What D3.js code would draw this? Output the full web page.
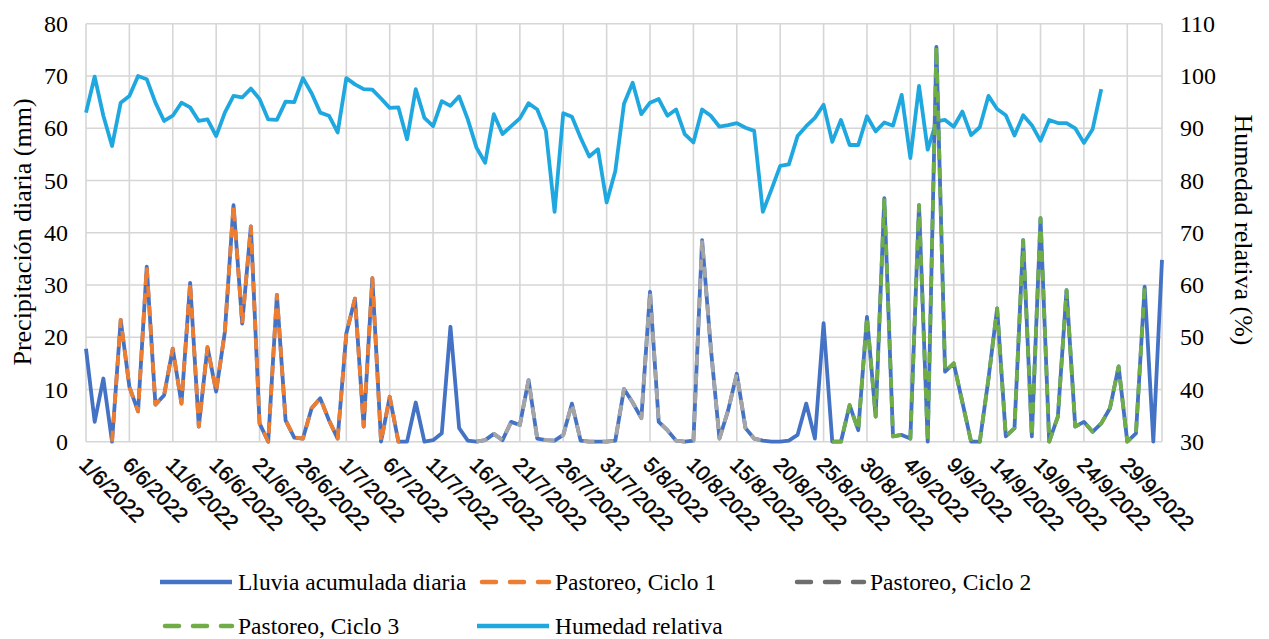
<!DOCTYPE html>
<html><head><meta charset="utf-8">
<script src="https://cdn.jsdelivr.net/npm/d3@7"></script>
<style>body{margin:0;background:#fff}svg{display:block}</style>
</head><body>
<svg id="c" width="1269" height="639"></svg>
<script>
// ---------- data ----------
const startDate = "2022-06-01";
const endDate = "2022-10-03";
const tickLabels = ["1/6/2022","6/6/2022","11/6/2022","16/6/2022","21/6/2022","26/6/2022","1/7/2022","6/7/2022","11/7/2022","16/7/2022","21/7/2022","26/7/2022","31/7/2022","5/8/2022","10/8/2022","15/8/2022","20/8/2022","25/8/2022","30/8/2022","4/9/2022","9/9/2022","14/9/2022","19/9/2022","24/9/2022","29/9/2022"];
const leftTicks = [0,10,20,30,40,50,60,70,80];
const rightTicks = [30,40,50,60,70,80,90,100,110];

// Lluvia acumulada diaria (mm), one value per day from 1/6/2022
const lluvia = [
  17.8, 3.8, 12.1, 0, 23.3, 10.5, 5.8, 33.5, 7.1, 8.9,
  17.8, 7.3, 30.4, 2.9, 18.1, 9.6, 21, 45.3, 22.6, 41.2,
  3.5, 0, 28.1, 4.1, 0.8, 0.6, 6.4, 8.3, 4.1, 0.6,
  20.7, 27.4, 2.9, 31.3, 0, 8.6, 0, 0, 7.5, 0,
  0.3, 1.6, 22, 2.6, 0.2, 0, 0.3, 1.5, 0.3, 3.8,
  3.2, 11.8, 0.6, 0.3, 0.2, 1.3, 7.3, 0.2, 0, 0,
  0, 0.2, 10.1, 7.5, 4.5, 28.7, 3.8, 2.2, 0.2, 0,
  0.2, 38.6, 18, 0.6, 6, 13, 2.6, 0.6, 0.2, 0,
  0, 0.2, 1.3, 7.3, 0.6, 22.7, 0, 0, 7, 2.2,
  23.9, 4.8, 46.6, 1, 1.3, 0.6, 45.3, 0, 75.6, 13.4,
  15, 7.5, 0, 0, 12, 25.5, 1, 2.6, 38.6, 1,
  42.8, 0, 4.8, 29, 2.9, 3.8, 1.9, 3.5, 6.4, 14.4,
  0, 1.6, 29.7, 0, 34.8
];
// Humedad relativa (%), from 1/6/2022
const humedad = [
  93, 99.9, 92.4, 86.6, 94.9, 96.2, 100, 99.4, 94.9, 91.4,
  92.4, 94.9, 94, 91.4, 91.7, 88.5, 93, 96.2, 95.9, 97.6,
  95.6, 91.7, 91.6, 95.1, 95, 99.6, 96.7, 93, 92.4, 89.2,
  99.6, 98.4, 97.5, 97.4, 95.7, 93.9, 94, 87.9, 97.5, 92,
  90.4, 95.2, 94.3, 96.1, 91.7, 86.3, 83.4, 92.7, 88.9, 90.4,
  91.9, 94.8, 93.6, 89.5, 74, 92.9, 92.2, 88.2, 84.6, 86,
  75.8, 81.8, 94.7, 98.7, 92.7, 94.9, 95.6, 92.4, 93.6, 88.9,
  87.3, 93.6, 92.4, 90.3, 90.6, 91, 90.1, 89.5, 74, 78.3,
  82.8, 83.1, 88.5, 90.4, 92, 94.5, 87.4, 91.6, 86.8, 86.8,
  92.3, 89.4, 91.1, 90.5, 96.4, 84.3, 98.1, 85.9, 91.3, 91.6,
  90.3, 93.2, 88.7, 90.2, 96.2, 93.7, 92.5, 88.6, 92.5, 90.6,
  87.6, 91.6, 91, 91, 90, 87.2, 89.8, 97.5
];
// Pastoreo, Ciclo 1 (from 4/6/2022)
const ciclo1Start = "2022-06-04";
const ciclo1 = [0, 23.3, 10.5, 5.8, 33.5, 7.1, 8.9, 17.8, 7.3, 30.4, 2.9, 18.1, 9.6, 21, 45.3, 22.6, 41.2, 3.5, 0, 28.1, 4.1, 0.8, 0.6, 6.4, 8.3, 4.1, 0.6, 20.7, 27.4, 2.9, 31.3, 0, 8.6, 0, 0];
// Pastoreo, Ciclo 2 (from 16/7/2022)
const ciclo2Start = "2022-07-16";
const ciclo2 = [0, 0.3, 1.5, 0.3, 3.8, 3.2, 11.8, 0.6, 0.3, 0.2, 1.3, 7.3, 0.2, 0, 0, 0, 0.2, 10.1, 7.5, 4.5, 28.7, 3.8, 2.2, 0.2, 0, 0.2, 38.6, 18, 0.6, 6, 13, 2.6, 0.6, 0.2];
// Pastoreo, Ciclo 3 (from 26/8/2022)
const ciclo3Start = "2022-08-26";
const ciclo3 = [0, 0, 7, 2.2, 23.9, 4.8, 46.6, 1, 1.3, 0.6, 45.3, 0, 75.6, 13.4, 15, 7.5, 0, 0, 12, 25.5, 1, 2.6, 38.6, 1, 42.8, 0, 4.8, 29, 2.9, 3.8, 1.9, 3.5, 6.4, 14.4, 0, 1.6, 29.7];

const legendItems = [
  {label:"Lluvia acumulada diaria", color:"#4472c4", dash:null},
  {label:"Pastoreo, Ciclo 1", color:"#ed7d31", dash:"14,14"},
  {label:"Pastoreo, Ciclo 2", color:"#6e6e6e", dash:"14,14"},
  {label:"Pastoreo, Ciclo 3", color:"#70ad47", dash:"14,14"},
  {label:"Humedad relativa", color:"#1fa8e0", dash:null}
];

// ---------- drawing ----------
const svg = d3.select("#c");
const parse = d3.utcParse("%Y-%m-%d");
const t0 = parse(startDate);
const dayAt = (start, i) => d3.utcDay.offset(parse(start), i);

const x = d3.scaleUtc().domain([t0, parse(endDate)]).range([86, 1162]);
const yL = d3.scaleLinear().domain([0, 80]).range([441.7, 23.8]);
const yR = d3.scaleLinear().domain([30, 110]).range([441.7, 23.8]);

const tickDates = tickLabels.map((_, k) => d3.utcDay.offset(t0, k * 5));
const serif = "'Liberation Serif','Times New Roman',serif";
const sans = "'Liberation Sans',Arial,sans-serif";

// gridlines
const grid = svg.append("g").attr("stroke", "#d6d6d6").attr("stroke-width", 1.6);
grid.selectAll("line.h").data(leftTicks).join("line")
  .attr("x1", 86).attr("x2", 1162)
  .attr("y1", d => yL(d)).attr("y2", d => yL(d));
grid.selectAll("line.v").data(tickDates.concat([parse(endDate)])).join("line")
  .attr("x1", d => x(d)).attr("x2", d => x(d))
  .attr("y1", yL(80)).attr("y2", yL(0));

// axis labels
const axL = svg.append("g").call(d3.axisLeft(yL).tickValues(leftTicks).tickSize(0).tickPadding(18))
  .attr("transform", "translate(86,0)");
axL.select(".domain").remove();
axL.selectAll("text").attr("font-family", serif).attr("font-size", 24).attr("fill", "#000");

const axR = svg.append("g").call(d3.axisRight(yR).tickValues(rightTicks).tickSize(0).tickPadding(18))
  .attr("transform", "translate(1162,0)");
axR.select(".domain").remove();
axR.selectAll("text").attr("font-family", serif).attr("font-size", 24).attr("fill", "#000");

// x labels
svg.append("g").selectAll("text").data(tickDates).join("text")
  .attr("transform", d => `translate(${x(d) - 8},466) rotate(45)`)
  .attr("font-family", sans).attr("font-size", 21).attr("fill", "#000")
  .attr("stroke", "#000").attr("stroke-width", 0.45)
  .text((d, k) => tickLabels[k]);

// axis titles
svg.append("text").attr("transform", "translate(31,232) rotate(-90)")
  .attr("text-anchor", "middle").attr("font-family", serif).attr("font-size", 26)
  .text("Precipitación diaria (mm)");
svg.append("text").attr("transform", "translate(1235,230) rotate(90)")
  .attr("text-anchor", "middle").attr("font-family", serif).attr("font-size", 26)
  .text("Humedad relativa (%)");

// lines
const lineL = d3.line().x(d => x(d.date)).y(d => yL(d.v));
const lineR = d3.line().x(d => x(d.date)).y(d => yR(d.v));
const toPts = (start, arr) => arr.map((v, i) => ({date: dayAt(start, i), v}));

svg.append("path").datum(toPts(startDate, humedad)).attr("d", lineR)
  .attr("fill", "none").attr("stroke", "#1fa8e0").attr("stroke-width", 3.8).attr("stroke-linejoin", "round");
svg.append("path").datum(toPts(startDate, lluvia)).attr("d", lineL)
  .attr("fill", "none").attr("stroke", "#4472c4").attr("stroke-width", 3.8).attr("stroke-linejoin", "round");

const cycles = [
  {start: ciclo1Start, vals: ciclo1, color: "#ed7d31"},
  {start: ciclo2Start, vals: ciclo2, color: "#a5a5a5"},
  {start: ciclo3Start, vals: ciclo3, color: "#70ad47"}
];
cycles.forEach(c => {
  svg.append("path").datum(toPts(c.start, c.vals)).attr("d", lineL)
    .attr("fill", "none").attr("stroke", c.color).attr("stroke-width", 3.8)
    .attr("stroke-dasharray", "11,8").attr("stroke-linejoin", "round");
});

// legend
const legPos = [
  {x:160, y:582}, {x:477, y:582}, {x:792, y:582},
  {x:160, y:626}, {x:477, y:626}
];
const leg = svg.append("g");
legendItems.forEach((it, k) => {
  const p = legPos[k];
  leg.append("line").attr("x1", it.dash ? p.x + 5 : p.x).attr("x2", p.x + 72).attr("y1", p.y).attr("y2", p.y)
    .attr("stroke", it.color).attr("stroke-width", 4.5)
    .attr("stroke-linecap", it.dash ? "round" : "butt")
    .attr("stroke-dasharray", it.dash);
  leg.append("text").attr("x", p.x + 78).attr("y", p.y).attr("dy", "0.35em")
    .attr("font-family", serif).attr("font-size", 23.5).attr("fill", "#000")
    .text(it.label);
});
</script>
</body></html>
